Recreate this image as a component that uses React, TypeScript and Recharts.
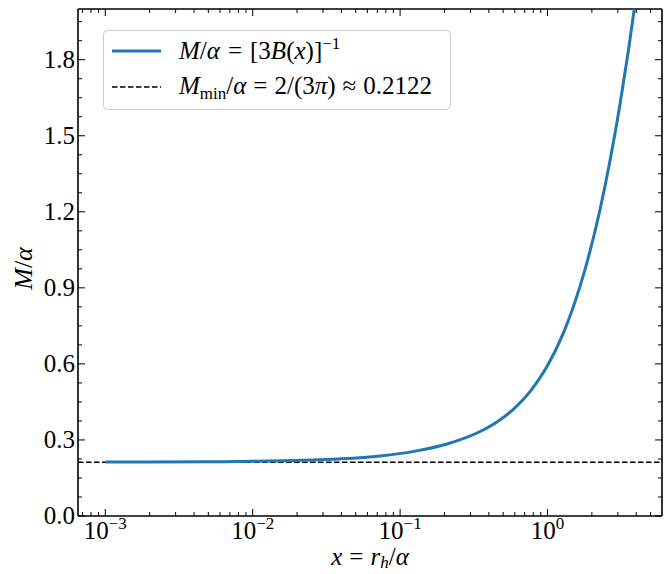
import { LineChart, Line, XAxis, YAxis, ReferenceLine, Label } from "recharts";

const FONT = "'Liberation Serif', 'Times New Roman', serif";
const BLUE = "#1f77b4";

// x = r_h / alpha and the corresponding M / alpha along the curve
const xValues = [
  0.001, 0.002, 0.005, 0.01, 0.02, 0.04, 0.0733, 0.124, 0.208, 0.349, 0.454,
  0.589, 0.764, 0.99, 1.285, 1.667, 1.898, 2.28, 2.66, 3.11, 3.55, 3.89, 4.1,
];
const massValues = [
  0.2126, 0.2129, 0.2139, 0.2155, 0.219, 0.2255, 0.2371, 0.255, 0.284, 0.3333,
  0.3711, 0.4219, 0.4918, 0.5884, 0.7236, 0.909, 1.0226, 1.213, 1.404, 1.627,
  1.842, 2.0055, 2.106,
];
const massMin = 0.2122;

const xDomain = [6.53e-4, 5.98];
const yDomain = [0, 2.0];

const xMajorTicks = [0.001, 0.01, 0.1, 1];
const xTickExponents = ["\u22123", "\u22122", "\u22121", "0"];
const xMinorTicks = [
  0.0007, 0.0008, 0.0009,
  0.002, 0.003, 0.004, 0.005, 0.006, 0.007, 0.008, 0.009,
  0.02, 0.03, 0.04, 0.05, 0.06, 0.07, 0.08, 0.09,
  0.2, 0.3, 0.4, 0.5, 0.6, 0.7, 0.8, 0.9,
  2, 3, 4, 5,
];
const yMajorTicks = [0, 0.3, 0.6, 0.9, 1.2, 1.5, 1.8];
const yTickLabels = ["0.0", "0.3", "0.6", "0.9", "1.2", "1.5", "1.8"];
const yMinorTicks = [
  0.075, 0.15, 0.225, 0.375, 0.45, 0.525, 0.675, 0.75, 0.825, 0.975, 1.05,
  1.125, 1.275, 1.35, 1.425, 1.575, 1.65, 1.725, 1.875, 1.95,
];

const data = xValues.map((x, i) => ({ x, m: massValues[i] }));
const xTicks = [...xMajorTicks, ...xMinorTicks].sort((a, b) => a - b);
const yTicks = [...yMajorTicks, ...yMinorTicks].sort((a, b) => a - b);

// plot box edges (chart margins + axis sizes below)
const PLOT_TOP = 9;
const PLOT_RIGHT = 662;

const MAJOR = 7;
const MINOR = 4;
const txt = { fontFamily: FONT, fill: "#000" };

// ticks point inward on all four sides, mirrored on top / right
function BottomTick({ x, y, payload }: any) {
  const i = xMajorTicks.indexOf(payload.value);
  const len = i >= 0 ? MAJOR : MINOR;
  return (
    <g>
      <line x1={x} x2={x} y1={y} y2={y - len} stroke="#000" strokeWidth={1} />
      <line x1={x} x2={x} y1={PLOT_TOP} y2={PLOT_TOP + len} stroke="#000" strokeWidth={1} />
      {i >= 0 && (
        <text x={x} y={y + 23} textAnchor="middle" fontSize={25} style={txt}>
          10
          <tspan dy={-10} fontSize={17}>
            {xTickExponents[i]}
          </tspan>
        </text>
      )}
    </g>
  );
}

function LeftTick({ x, y, payload }: any) {
  const i = yMajorTicks.indexOf(payload.value);
  const len = i >= 0 ? MAJOR : MINOR;
  return (
    <g>
      <line x1={x} x2={x + len} y1={y} y2={y} stroke="#000" strokeWidth={1} />
      <line x1={PLOT_RIGHT} x2={PLOT_RIGHT - len} y1={y} y2={y} stroke="#000" strokeWidth={1} />
      {i >= 0 && (
        <text x={x - 3} y={y + 8} textAnchor="end" fontSize={25} style={txt}>
          {yTickLabels[i]}
        </text>
      )}
    </g>
  );
}

function XLabel({ viewBox }: any) {
  const cx = viewBox.x + viewBox.width / 2;
  return (
    <text x={cx} y={viewBox.y + 49} textAnchor="middle" fontSize={25} style={txt}>
      <tspan fontStyle="italic">x</tspan>
      <tspan dx={7}>=</tspan>
      <tspan dx={7} fontStyle="italic">r</tspan>
      <tspan dy={3} fontSize={17} fontStyle="italic">h</tspan>
      <tspan dy={-3}>/</tspan>
      <tspan fontStyle="italic">α</tspan>
    </text>
  );
}

function YLabel({ viewBox }: any) {
  const cy = viewBox.y + viewBox.height / 2 + 6;
  const tx = 32;
  return (
    <text
      x={tx}
      y={cy}
      transform={`rotate(-90 ${tx} ${cy})`}
      textAnchor="middle"
      fontSize={26}
      style={txt}
    >
      <tspan fontStyle="italic">M</tspan>
      <tspan>/</tspan>
      <tspan fontStyle="italic">α</tspan>
    </text>
  );
}

function CurveLegend() {
  return (
    <svg width={348} height={80} style={{ position: "absolute", left: 103, top: 30 }}>
      <rect x={0.5} y={0.5} width={347} height={79} rx={4} fill="#fff" fillOpacity={0.8} stroke="#cccccc" />
      <line x1={9} x2={58} y1={21} y2={21} stroke={BLUE} strokeWidth={3} />
      <text x={76} y={29} fontSize={25} style={txt}>
        <tspan fontStyle="italic">M</tspan>
        <tspan>/</tspan>
        <tspan fontStyle="italic">α</tspan>
        <tspan dx={8}>=</tspan>
        <tspan dx={8}>[3</tspan>
        <tspan fontStyle="italic">B</tspan>
        <tspan>(</tspan>
        <tspan fontStyle="italic">x</tspan>
        <tspan>)]</tspan>
        <tspan dy={-10} fontSize={17}>{"\u22121"}</tspan>
      </text>
      <line x1={9} x2={58} y1={57} y2={57} stroke="#000" strokeWidth={1.5} strokeDasharray="5.5 2.5" />
      <text x={76} y={64} fontSize={25} style={txt}>
        <tspan fontStyle="italic">M</tspan>
        <tspan dy={5} fontSize={17}>min</tspan>
        <tspan dy={-5}>/</tspan>
        <tspan fontStyle="italic">α</tspan>
        <tspan dx={7}>=</tspan>
        <tspan dx={7}>2/(3</tspan>
        <tspan fontStyle="italic">π</tspan>
        <tspan>)</tspan>
        <tspan dx={7}>≈</tspan>
        <tspan dx={7}>0.2122</tspan>
      </text>
    </svg>
  );
}

const axisLine = { stroke: "#000", strokeWidth: 1.6 };

export default function App() {
  return (
    <div style={{ position: "relative", width: 670, height: 574, background: "#fff" }}>
      <style>{"body{margin:0}"}</style>
      <LineChart width={670} height={574} data={data} margin={{ top: PLOT_TOP, right: 670 - PLOT_RIGHT, left: 0, bottom: 0 }}>
        <XAxis
          dataKey="x"
          type="number"
          scale="log"
          domain={xDomain}
          allowDataOverflow
          ticks={xTicks}
          interval={0}
          height={58}
          tickSize={0}
          tickMargin={0}
          tickLine={false}
          axisLine={axisLine}
          tick={<BottomTick />}
        >
          <Label content={<XLabel />} />
        </XAxis>
        <YAxis
          type="number"
          domain={yDomain}
          allowDataOverflow
          ticks={yTicks}
          interval={0}
          width={78}
          tickSize={0}
          tickMargin={0}
          tickLine={false}
          axisLine={axisLine}
          tick={<LeftTick />}
        >
          <Label content={<YLabel />} />
        </YAxis>
        {/* top and right spines of the frame */}
        <ReferenceLine y={yDomain[1]} stroke="#000" strokeWidth={1.6} ifOverflow="visible" />
        <ReferenceLine x={xDomain[1]} stroke="#000" strokeWidth={1.6} ifOverflow="visible" />
        <ReferenceLine y={massMin} stroke="#000" strokeWidth={1.5} strokeDasharray="5.5 2.5" />
        <Line
          type="monotone"
          dataKey="m"
          stroke={BLUE}
          strokeWidth={3}
          dot={false}
          isAnimationActive={false}
        />
      </LineChart>
      <CurveLegend />
    </div>
  );
}
